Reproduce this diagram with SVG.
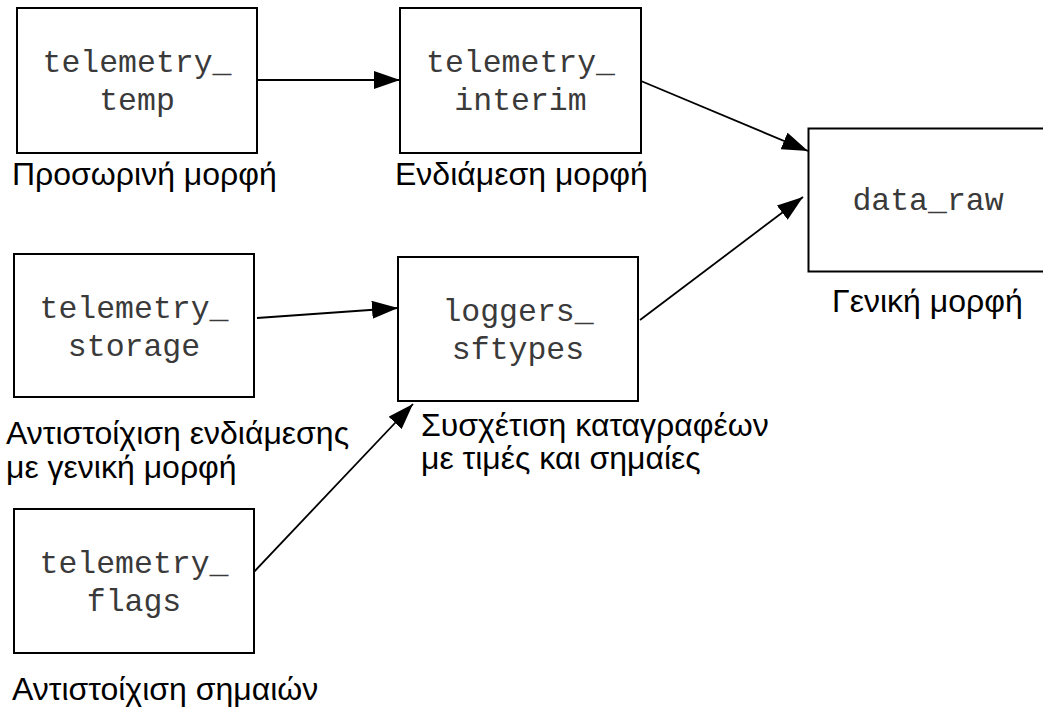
<svg xmlns="http://www.w3.org/2000/svg" width="1043" height="708" viewBox="0 0 1043 708">
  <style>
    .box { fill: #ffffff; stroke: #000000; stroke-width: 2; }
    .code { font-family: "Liberation Mono", "Courier New", monospace; font-size: 31.5px; fill: #3a3a3a; text-anchor: middle; }
    .cap { font-family: "Liberation Sans", Arial, sans-serif; font-size: 32px; fill: #000000; }
    .edge { stroke: #000000; stroke-width: 1.8; fill: none; marker-end: url(#arrow); }
  </style>
  <defs>
    <marker id="arrow" viewBox="0 0 26 18" refX="26" refY="9" markerWidth="26" markerHeight="18" markerUnits="userSpaceOnUse" orient="auto">
      <path d="M0,0 L26,9 L0,18 Z" fill="#000000"/>
    </marker>
  </defs>
  <rect width="1043" height="708" fill="#ffffff"/>

  <g id="connectors">
    <line class="edge" x1="257" y1="80" x2="400" y2="80"/>
    <line class="edge" x1="641" y1="81" x2="808" y2="151"/>
    <line class="edge" x1="640" y1="320" x2="803" y2="197"/>
    <line class="edge" x1="257" y1="318" x2="398" y2="308"/>
    <line class="edge" x1="251" y1="575" x2="413" y2="404"/>
  </g>

  <g id="telemetry_temp">
    <rect class="box" x="17" y="8" width="240" height="145"/>
    <text class="code" x="137" y="72">telemetry_</text>
    <text class="code" x="137" y="110">temp</text>
    <text class="cap" x="12" y="185">Προσωρινή μορφή</text>
  </g>

  <g id="telemetry_interim">
    <rect class="box" x="400" y="8" width="241" height="145"/>
    <text class="code" x="520.5" y="72">telemetry_</text>
    <text class="code" x="520.5" y="110">interim</text>
    <text class="cap" x="395" y="185">Ενδιάμεση μορφή</text>
  </g>

  <g id="data_raw">
    <rect class="box" x="808.5" y="128.5" width="245" height="143"/>
    <text class="code" x="928" y="210">data_raw</text>
    <text class="cap" x="832" y="312">Γενική μορφή</text>
  </g>

  <g id="telemetry_storage">
    <rect class="box" x="14" y="254" width="240" height="143"/>
    <text class="code" x="134" y="318">telemetry_</text>
    <text class="code" x="134" y="356">storage</text>
    <text class="cap" x="6" y="444">Αντιστοίχιση ενδιάμεσης</text>
    <text class="cap" x="6" y="478">με γενική μορφή</text>
  </g>

  <g id="loggers_sftypes">
    <rect class="box" x="398" y="257" width="240" height="144"/>
    <text class="code" x="518" y="321">loggers_</text>
    <text class="code" x="518" y="359">sftypes</text>
    <text class="cap" x="421" y="436">Συσχέτιση καταγραφέων</text>
    <text class="cap" x="421" y="469">με τιμές και σημαίες</text>
  </g>

  <g id="telemetry_flags">
    <rect class="box" x="14" y="509" width="240" height="144"/>
    <text class="code" x="134" y="573">telemetry_</text>
    <text class="code" x="134" y="611">flags</text>
    <text class="cap" x="12" y="700">Αντιστοίχιση σημαιών</text>
  </g>
</svg>
